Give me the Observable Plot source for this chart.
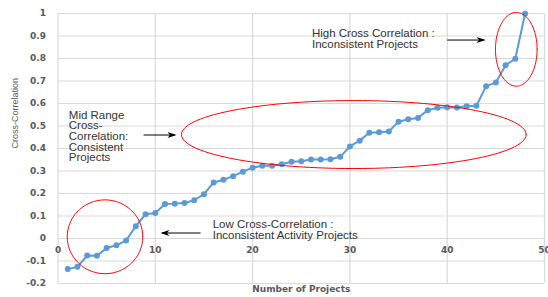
<!DOCTYPE html>
<html><head><meta charset="utf-8">
<script src="https://cdn.jsdelivr.net/npm/d3@7"></script>
<script src="https://cdn.jsdelivr.net/npm/@observablehq/plot@0.6"></script>
<style>html,body{margin:0;padding:0;background:#fff;}</style>
</head><body><div id="chart"></div>
<script>
const projects = [1,2,3,4,5,6,7,8,9,10,11,12,13,14,15,16,17,18,19,20,21,22,23,24,25,26,27,28,29,30,31,32,33,34,35,36,37,38,39,40,41,42,43,44,45,46,47,48];
const crossCorrelation = [-0.136,-0.126,-0.076,-0.077,-0.042,-0.030,-0.009,0.055,0.108,0.113,0.153,0.155,0.158,0.170,0.197,0.249,0.261,0.277,0.297,0.315,0.323,0.323,0.330,0.341,0.343,0.351,0.351,0.352,0.363,0.409,0.435,0.470,0.472,0.476,0.519,0.530,0.536,0.570,0.581,0.583,0.582,0.588,0.590,0.677,0.693,0.770,0.799,0.999];
const xTicks = [0,10,20,30,40,50];
const xTickLabels = ["0","10","20","30","40","50"];
const yTicks = [-0.2,-0.1,0,0.1,0.2,0.3,0.4,0.5,0.6,0.7,0.8,0.9,1];
const yTickLabels = ["-0.2","-0.1","0","0.1","0.2","0.3","0.4","0.5","0.6","0.7","0.8","0.9","1"];
const annotationTexts = [
  "Mid Range\nCross-\nCorrelation:\nConsistent\nProjects",
  "Low Cross-Correlation :\nInconsistent Activity Projects",
  "High Cross Correlation :\nInconsistent Projects"
];
const yTitle = "Cross-Correlation";
const xTitle = "Number of Projects";

const data = projects.map((p, i) => ({x: p, y: crossCorrelation[i]}));

function ellipse(cx, cy, rx, ry) {
  const pts = [];
  for (let k = 0; k <= 120; k++) {
    const t = (k / 120) * 2 * Math.PI;
    pts.push({x: cx + rx * Math.cos(t), y: cy + ry * Math.sin(t)});
  }
  return pts;
}

const arrowHead = {
  draw(context) {
    context.moveTo(0, 0);
    context.lineTo(-9, -3);
    context.lineTo(-6.5, 0);
    context.lineTo(-9, 3);
    context.closePath();
  }
};

const textColor = "#333333";
const axisColor = "#595959";

const chart = Plot.plot({
  width: 548,
  height: 297,
  marginLeft: 57.5,
  marginRight: 4,
  marginTop: 13,
  marginBottom: 14,
  style: {fontFamily: "'Liberation Sans', Arial, sans-serif", background: "#fff"},
  x: {domain: [0, 50]},
  y: {domain: [-0.2, 1]},
  marks: [
    Plot.gridX({ticks: xTicks, stroke: "#d9d9d9", strokeOpacity: 1, strokeWidth: 1.2}),
    Plot.gridY({ticks: yTicks, stroke: "#d9d9d9", strokeOpacity: 1, strokeWidth: 1.2}),
    Plot.axisY({ticks: yTicks, tickFormat: d => yTickLabels[yTicks.indexOf(d)], tickSize: 0, tickPadding: 12,
      fontWeight: "bold", fontSize: 9, fontFamily: "DejaVu Sans", color: axisColor, label: null}),
    Plot.axisX({ticks: [], label: null}),
    Plot.text(xTicks, {x: d => d, y: 0, dy: 12, text: (d, i) => xTickLabels[i],
      fontWeight: "bold", fontSize: 9, fontFamily: "DejaVu Sans", fill: axisColor}),
    Plot.text([yTitle], {frameAnchor: "left", dx: -43, rotate: -90, text: d => d, fontSize: 9, fill: axisColor}),
    Plot.text([xTitle], {frameAnchor: "bottom", dy: 8, text: d => d, fontSize: 9, fontWeight: "bold", fontFamily: "DejaVu Sans", fill: axisColor}),
    Plot.line(data, {x: "x", y: "y", stroke: "#5B9BD5", strokeWidth: 2}),
    Plot.dot(data, {x: "x", y: "y", r: 3, fill: "#5B9BD5", stroke: "none"}),
    Plot.line(ellipse(4.83, 0.0076, 3.88, 0.164), {x: "x", y: "y", stroke: "#ff0000", strokeWidth: 1, curve: "linear"}),
    Plot.line(ellipse(30.4, 0.462, 17.71, 0.151), {x: "x", y: "y", stroke: "#ff0000", strokeWidth: 1}),
    Plot.line(ellipse(47.1, 0.841, 2.14, 0.164), {x: "x", y: "y", stroke: "#ff0000", strokeWidth: 1}),
    Plot.link([{x1: 8.79, x2: 12.0, y: 0.46}, {x1: 14.65, x2: 10.7, y: 0.0244}, {x1: 40.0, x2: 43.8, y: 0.882}],
      {x1: "x1", x2: "x2", y1: "y", y2: "y", stroke: "#000", strokeWidth: 1}),
    Plot.dot([{x: 12.18, y: 0.46, r: 0}, {x: 10.53, y: 0.0244, r: 180}, {x: 43.94, y: 0.882, r: 0}],
      {x: "x", y: "y", rotate: "r", symbol: arrowHead, fill: "#000", stroke: "none"}),
    Plot.text([annotationTexts[0]], {x: 1.11, y: 0.453, text: d => d, textAnchor: "start", lineAnchor: "middle", lineHeight: 0.92, fontSize: 11.5, fill: textColor}),
    Plot.text([annotationTexts[1]], {x: 15.9, y: 0.039, text: d => d, textAnchor: "start", lineAnchor: "middle", lineHeight: 1.0, fontSize: 11.5, fill: textColor}),
    Plot.text([annotationTexts[2]], {x: 26.1, y: 0.887, text: d => d, textAnchor: "start", lineAnchor: "middle", lineHeight: 0.92, fontSize: 11.5, fill: textColor})
  ]
});
document.getElementById("chart").appendChild(chart);
</script>
</body></html>
